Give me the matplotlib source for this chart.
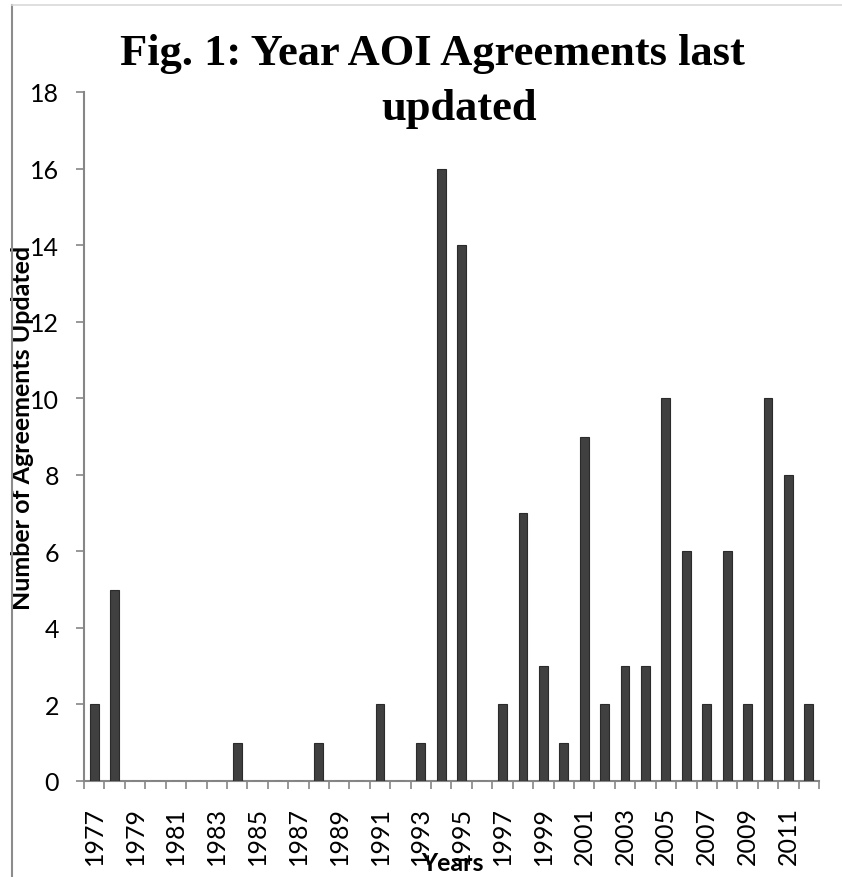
import numpy as np
import matplotlib
matplotlib.use("Agg")
import matplotlib.pyplot as plt
from matplotlib.lines import Line2D

# data
years = list(range(1977, 2013))
counts = [2, 5, 0, 0, 0, 0, 0, 1, 0, 0,
          0, 1, 0, 0, 2, 0, 1, 16, 14, 0,
          2, 7, 3, 1, 9, 2, 3, 3, 10, 6,
          2, 6, 2, 10, 8, 2]
title_line1 = "Fig. 1: Year AOI Agreements last"
title_line2 = "updated"
y_ticks = list(range(0, 20, 2))

W, H = 842, 878
fig = plt.figure(figsize=(W / 100, H / 100), dpi=100)
ax = fig.add_axes([84 / W, 1 - 782 / H, (819 - 84) / W, (782 - 93) / H])

grey = "#868686"
x = np.arange(len(years))
ax.bar(x, counts, width=0.43, color="#404040", edgecolor="#2b2b2b", linewidth=0.8, zorder=3)

ax.set_xlim(-0.5, len(years) - 0.5)
ax.set_ylim(0, 18)

# labels every other year, tick marks between categories
ax.set_xticks(x[::2])
ax.set_xticklabels([str(y) for y in years[::2]], rotation=90, family="Lato", fontsize=18)
ax.set_xticks(np.arange(-0.5, len(years)), minor=True)
ax.tick_params(axis="x", which="major", length=0, pad=18)
ax.tick_params(axis="x", which="minor", length=6, width=1.2, color=grey)

ax.set_yticks(y_ticks)
ax.set_yticklabels([str(v) for v in y_ticks], family="Lato", fontsize=18)
ax.tick_params(axis="y", length=6, width=1.2, color=grey, pad=12)

for s in ["top", "right"]:
    ax.spines[s].set_visible(False)
for s in ["left", "bottom"]:
    ax.spines[s].set_color(grey)
    ax.spines[s].set_linewidth(1.5)

ax.set_ylabel("Number of Agreements Updated", family="Lato", fontweight="bold", fontsize=18)
ax.yaxis.set_label_coords(34 / W, 1 - 428 / H, transform=fig.transFigure)
fig.text(452 / W, 1 - 864 / H, "Years", ha="center", va="center",
         family="Lato", fontweight="bold", fontsize=18)

fig.text(432 / W, 1 - 65 / H, title_line1, ha="center", va="baseline",
         family="Liberation Serif", fontweight="bold", fontsize=32)
fig.text(459 / W, 1 - 120 / H, title_line2, ha="center", va="baseline",
         family="Liberation Serif", fontweight="bold", fontsize=32)

# chart area border
fig.add_artist(Line2D([12 / W, 12 / W], [0, 1 - 6 / H], transform=fig.transFigure, color="#8c8c8c", lw=1.5))
fig.add_artist(Line2D([12 / W, 1], [1 - 6 / H, 1 - 6 / H], transform=fig.transFigure, color="#d9d9d9", lw=1.2))

fig.savefig("out.png", dpi=100)
